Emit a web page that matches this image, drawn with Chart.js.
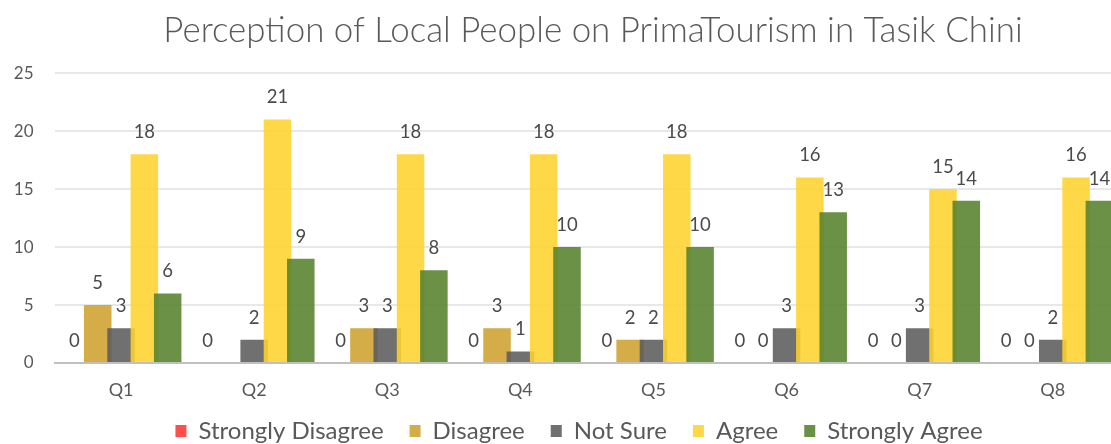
<!DOCTYPE html>
<html>
<head>
<meta charset="utf-8">
<title>Perception of Local People on PrimaTourism in Tasik Chini</title>
<script src="https://cdn.jsdelivr.net/npm/chart.js@4/dist/chart.umd.min.js"></script>
<style>
  html, body { margin: 0; padding: 0; background: #ffffff; overflow: hidden; }
  #wrap { width: 1170px; height: 444px; }
</style>
</head>
<body>
<div id="wrap"><canvas id="chart" width="1170" height="444"></canvas></div>
<script>
// Survey questions on the x axis
const questions = ['Q1', 'Q2', 'Q3', 'Q4', 'Q5', 'Q6', 'Q7', 'Q8'];

// Number of respondents per answer (null = no response recorded)
const stronglyDisagree = [0, 0, 0, 0, 0, 0, 0, 0];
const disagree         = [5, null, 3, 3, 2, 0, 0, 0];
const notSure          = [3, 2, 3, 1, 2, 3, 3, 2];
const agree            = [18, 21, 18, 18, 18, 16, 15, 16];
const stronglyAgree    = [6, 9, 8, 10, 10, 13, 14, 14];

// Value axis ticks
const yTicks = [0, 5, 10, 15, 20, 25];

const FONT = 'Lato, "Open Sans", sans-serif';
const TEXT = '#595959';

// Bars overlap inside a group, so each series is painted in legend order
// (later series on top), then its value is written above every bar.
const seriesPainter = {
  id: 'seriesPainter',
  beforeDatasetsDraw(chart) {
    const metas = chart.getSortedVisibleDatasetMetas();
    for (const meta of metas) {
      if (typeof chart._drawDataset === 'function') chart._drawDataset(meta);
      else meta.controller.draw();
    }
    const ctx = chart.ctx;
    ctx.save();
    ctx.font = '18.5px ' + FONT;
    ctx.fillStyle = '#4a4a4a';
    ctx.textAlign = 'center';
    ctx.textBaseline = 'middle';
    metas.forEach(meta => {
      const values = chart.data.datasets[meta.index].data;
      meta.data.forEach((bar, i) => {
        const v = values[i];
        if (v === null || v === undefined) return;
        ctx.fillText(String(v), bar.x, bar.y - 22);
      });
    });
    ctx.restore();
    return false;
  }
};

// Fine placement of the title and the legend row.
const blockNudge = {
  id: 'blockNudge',
  afterLayout(chart) {
    const lg = chart.legend;
    if (lg) { lg.top -= 8; lg.bottom -= 8; lg.left -= 6; lg.right -= 6; }
    const tb = chart.titleBlock;
    if (tb) { tb.left += 8; tb.right += 8; }
  }
};

const series = [
  { label: 'Strongly Disagree', data: stronglyDisagree, color: 'rgba(255, 53, 53, 0.88)' },
  { label: 'Disagree',          data: disagree,         color: 'rgba(206, 161, 47, 0.88)' },
  { label: 'Not Sure',          data: notSure,          color: 'rgba(92, 92, 92, 0.88)' },
  { label: 'Agree',             data: agree,            color: 'rgba(255, 211, 45, 0.88)' },
  { label: 'Strongly Agree',    data: stronglyAgree,    color: 'rgba(87, 130, 45, 0.88)' }
];

new Chart(document.getElementById('chart'), {
  type: 'bar',
  data: {
    labels: questions,
    datasets: series.map(s => ({
      label: s.label,
      data: s.data,
      backgroundColor: s.color,
      borderWidth: 0,
      categoryPercentage: 0.876,
      barPercentage: 1.18
    }))
  },
  options: {
    responsive: false,
    animation: false,
    devicePixelRatio: 1,
    layout: { padding: { left: 0, right: 0, top: 0, bottom: -17 } },
    plugins: {
      tooltip: { enabled: false },
      title: {
        display: true,
        text: 'Perception of Local People on PrimaTourism in Tasik Chini',
        color: TEXT,
        font: { family: FONT, size: 34.9, weight: '300' },
        padding: { top: 10.1, bottom: 21.1 }
      },
      legend: {
        position: 'bottom',
        labels: {
          color: TEXT,
          font: { family: FONT, size: 24 },
          boxWidth: 11,
          boxHeight: 12,
          padding: 26
        }
      }
    },
    scales: {
      x: {
        grid: { display: false, drawTicks: false },
        border: { display: true, color: '#C0C0C0', width: 2 },
        ticks: { color: TEXT, font: { family: FONT, size: 18 }, padding: 16 },
        afterFit(scale) { scale.height = 38; }
      },
      y: {
        min: 0,
        max: 25,
        afterBuildTicks(scale) { scale.ticks = yTicks.map(v => ({ value: v })); },
        grid: { color: '#E8E8E8', lineWidth: 2, drawTicks: false },
        border: { display: false },
        ticks: { color: TEXT, font: { family: FONT, size: 17 }, padding: 21 },
        afterFit(scale) { scale.width = 54.5; }
      },
      // empty margin on the right of the plot
      yRight: {
        position: 'right',
        grid: { display: false, drawTicks: false },
        border: { display: false },
        ticks: { display: false },
        afterFit(scale) { scale.width = 50.7; }
      }
    }
  },
  plugins: [seriesPainter, blockNudge]
});
</script>
</body>
</html>
